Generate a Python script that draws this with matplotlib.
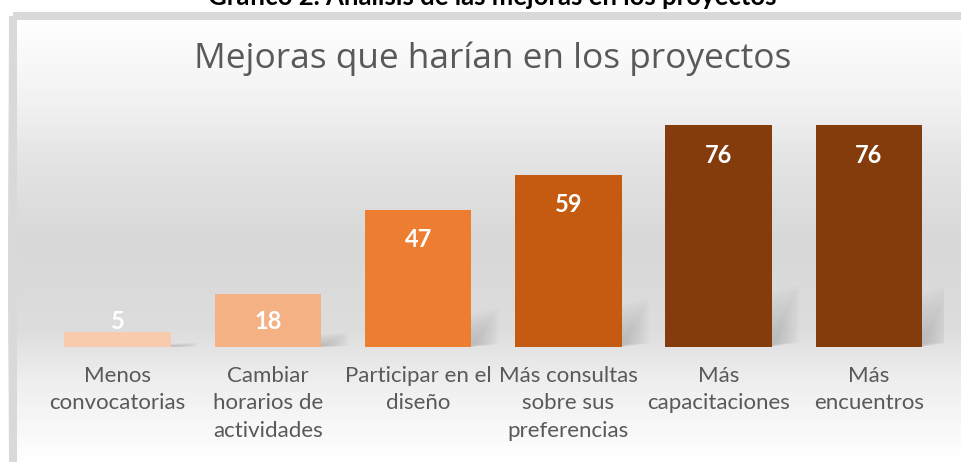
import matplotlib
matplotlib.use('Agg')
import numpy as np
import matplotlib.pyplot as plt
from matplotlib.patches import Rectangle, Polygon
from matplotlib.colors import LinearSegmentedColormap

# chart data
categories = ['Menos\nconvocatorias', 'Cambiar\nhorarios de\nactividades',
              'Participar en el\ndiseño', 'Más consultas\nsobre sus\npreferencias',
              'Más\ncapacitaciones', 'Más\nencuentros']
values = [5, 18, 47, 59, 76, 76]
bar_colors = ['#f8cbad', '#f4b183', '#ed7d31', '#c55a11', '#843c0c', '#843c0c']
title = 'Mejoras que harían en los proyectos'
heading = 'Gráfico 2. Análisis de las mejoras en los proyectos'

W, H = 961, 462
fig = plt.figure(figsize=(W / 100, H / 100), dpi=100)

# background: vertical grey gradient + chart border (pixel coords)
bg = fig.add_axes([0, 0, 1, 1], zorder=0)
bg.set_axis_off()
bg.set_xlim(0, W)
bg.set_ylim(H, 0)
stops = [(0, '#ffffff'), (20, '#ffffff'), (100, '#f2f2f2'), (160, '#e4e4e4'),
         (240, '#d8d8d8'), (330, '#dddddd'), (380, '#eeeeee'), (462, '#ffffff')]
cmap = LinearSegmentedColormap.from_list('bg', [(y / H, c) for y, c in stops])
grad = np.linspace(0, 1, H)[:, None]
bg.imshow(grad, cmap=cmap, aspect='auto', extent=(0, W, H, 0), vmin=0, vmax=1)
bg.add_patch(Rectangle((0, 0), W, 12, color='white', lw=0))
bg.add_patch(Rectangle((0, 0), 8, H, color='white', lw=0))
bg.add_patch(Rectangle((12.5, 15.5), W + 20, H + 20, fill=False,
                       ec='#d9d9d9', lw=8 * 0.72))

# main axes
ax = fig.add_axes([42.5 / W, 115 / H, (944 - 42.5) / W, (347 - 100) / H], zorder=1)
ax.patch.set_alpha(0)
x = np.arange(len(values))
bars = ax.bar(x, values, width=0.71, color=bar_colors, zorder=3)
ax.set_xlim(-0.5, len(values) - 0.5)
ax.set_ylim(0, 84.6)

# soft shadow to the right of each bar
for b in bars:
    r = b.get_x() + b.get_width()
    h = b.get_height()
    n = 12
    for k in range(n):
        s = 1 - k / n
        poly = Polygon([(r - 0.02, 0), (r + 0.18 * s, 0.02 * h),
                        (r + 0.18 * s, 0.28 * h * s), (r - 0.02, 0.24 * h * s)],
                       closed=True, fc='#7f7f7f', ec='none', alpha=0.035, zorder=2)
        ax.add_patch(poly)

for i, v in enumerate(values):
    ax.annotate(str(v), xy=(i, max(v, 19)), xytext=(0, -30), textcoords='offset pixels',
                ha='center', va='center', color='white', fontweight='bold',
                fontsize=17, family='Lato', zorder=4)

ax.set_xticks(x)
ax.set_xticklabels(categories, fontsize=16, family='Lato', color='#595959',
                   linespacing=1.44)
ax.tick_params(axis='x', length=0, pad=14)
ax.set_yticks([])
for sp in ax.spines.values():
    sp.set_visible(False)

fig.text(493 / W, 1 - 68 / H, title, ha='center', va='baseline', fontsize=25.4,
         family='Open Sans', color='#595959')
fig.text(492 / W, 1 - 5 / H, heading, ha='center', va='baseline', fontsize=18.5,
         family='Lato', fontweight='bold', color='black')

fig.savefig('out.png', dpi=100)
